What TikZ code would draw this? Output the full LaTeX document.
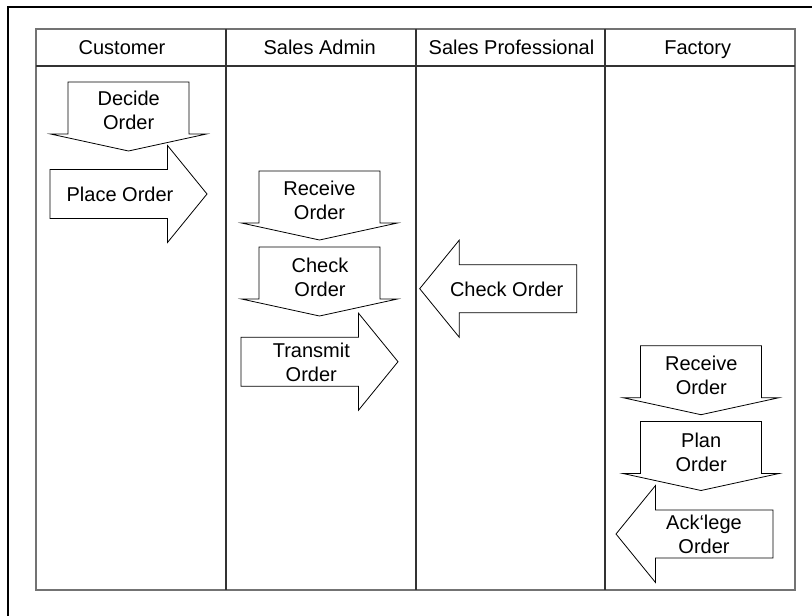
\documentclass[tikz,border=0pt]{standalone}
\usepackage{fontspec}
\setmainfont{Liberation Sans}
\usetikzlibrary{calc}

\begin{document}
\begin{tikzpicture}[x=0.75pt, y=-0.75pt,
  lbl/.style={font=\fontsize{15}{18}\selectfont, align=center, inner sep=0pt},
  lane/.style={black!55, line width=1.3pt},
  divider/.style={black!80, line width=0.8pt},
  blk/.style={black, line width=0.6pt, line join=miter},
  dnblock/.pic={\draw[blk] (-60.5,0) -- (60.5,0) -- (60.5,52) -- (78,52) -- (0,69) -- (-78,52) -- (-60.5,52) -- cycle;},
  rtblock/.pic={\draw[blk] (0,-24.5) -- (117.5,-24.5) -- (117.5,-48.5) -- (157,0) -- (117.5,48.5) -- (117.5,24.5) -- (0,24.5) -- cycle;},
  ltblock/.pic={\draw[blk] (0,-24) -- (-117.5,-24) -- (-117.5,-48.5) -- (-157,0) -- (-117.5,48.5) -- (-117.5,24) -- (0,24) -- cycle;}]

\useasboundingbox (0,0) rectangle (812,616);

% frame and lanes
\draw[line width=1.5pt] (8,616) -- (8,7) -- (812,7);
\draw[lane] (36,29) rectangle (795,590);
\draw[divider] (36,66) -- (795,66);
\foreach \x in {226,416,605}
  \draw[divider] (\x,29) -- (\x,590);

\node[lbl, anchor=base] (hcust) at (122,54.3) {Customer};
\node[lbl, anchor=base] (hadmin) at (319.7,54.3) {Sales Admin};
\node[lbl, anchor=base] (hprof) at (511.5,54.3) {Sales Professional};
\node[lbl, anchor=base] (hfact) at (697.7,54.3) {Factory};

% customer
\pic at (128.5,82) {dnblock};
\node[lbl] (tdecide) at (128.7,110.8) {Decide\\Order};
\pic at (50,194) {rtblock};
\node[lbl] (tplace) at (120,194.7) {Place Order};

% sales admin
\pic at (319.5,171) {dnblock};
\node[lbl] (trecv) at (319.5,200.5) {Receive\\Order};
\pic at (319.5,247) {dnblock};
\node[lbl] (tcheck) at (320,277) {Check\\Order};
\pic at (241,361.7) {rtblock};
\node[lbl] (ttrans) at (311.3,362.8) {Transmit\\Order};

% sales professional
\pic at (576.7,288.7) {ltblock};
\node[lbl] (tprof) at (506.7,289.3) {Check Order};

% factory
\pic at (701,345.7) {dnblock};
\node[lbl] (tfrecv) at (701.3,375.7) {Receive\\Order};
\pic at (701,421.5) {dnblock};
\node[lbl] (tplan) at (701.2,452.3) {Plan\\Order};
\pic at (773,534) {ltblock};
\node[lbl] (tack) at (704,534.7) {Ack‘lege\\Order};

\end{tikzpicture}
\end{document}
